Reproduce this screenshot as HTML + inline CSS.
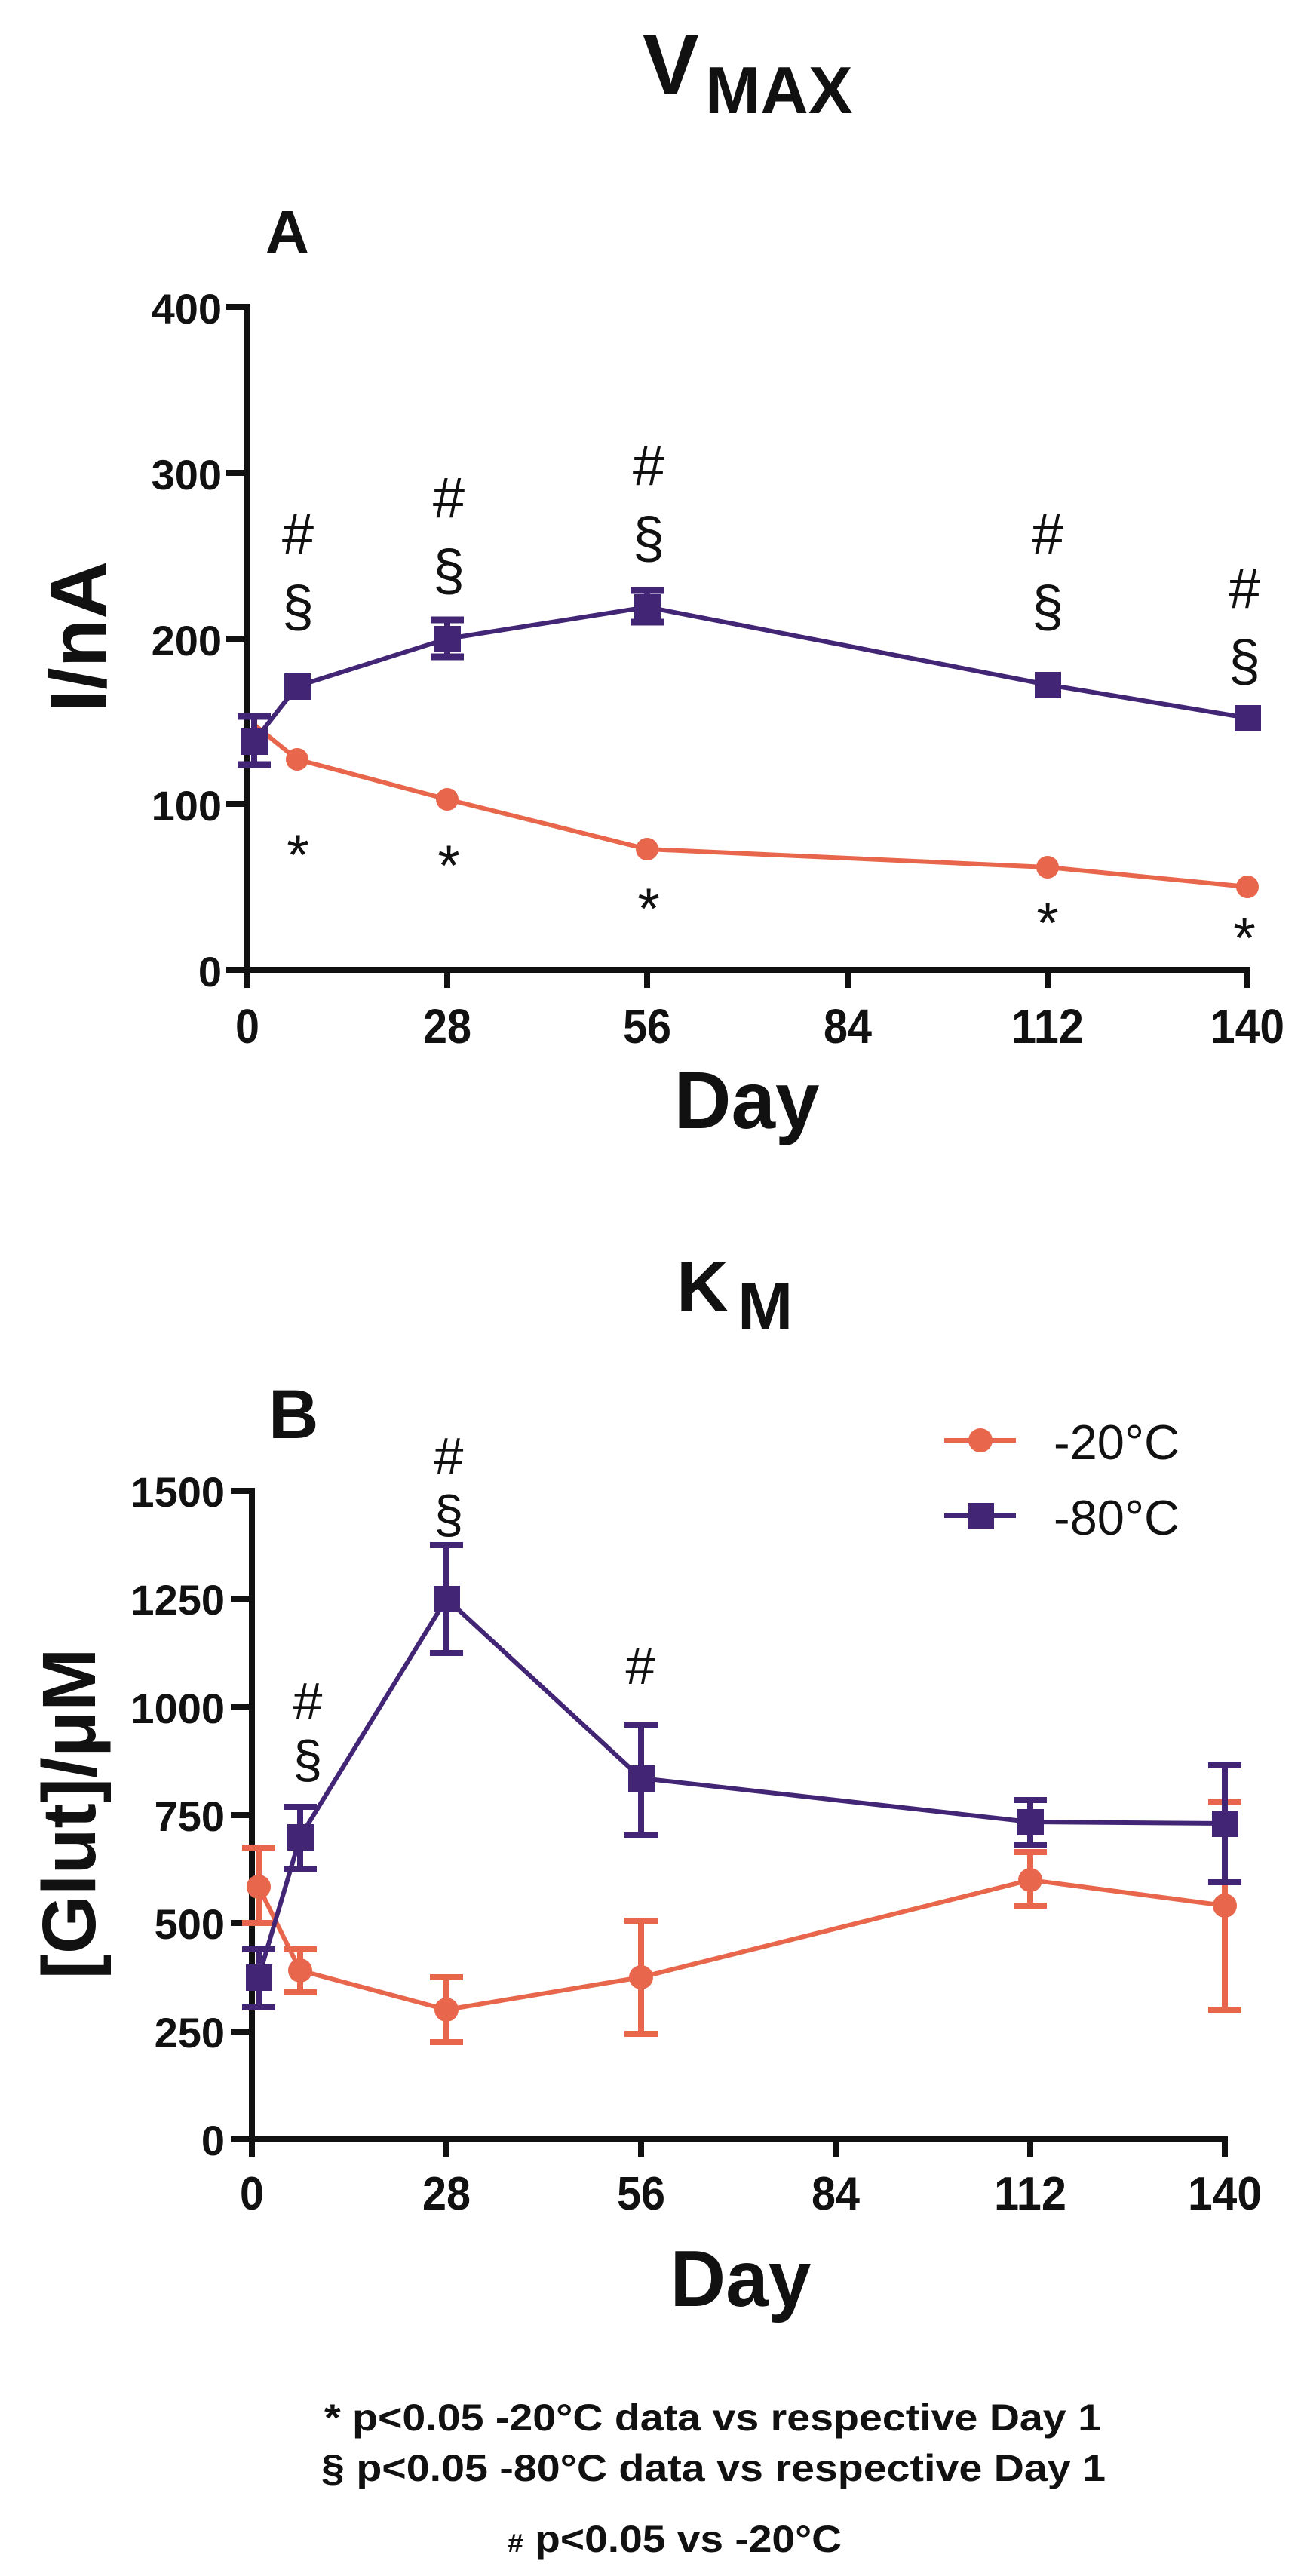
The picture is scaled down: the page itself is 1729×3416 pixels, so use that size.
<!DOCTYPE html>
<html><head><meta charset="utf-8"><style>
html,body{margin:0;padding:0;background:#fff;}
svg{display:block;}
text{font-family:"Liberation Sans",Arial,sans-serif;fill:#111;}
.b{font-weight:bold;}
</style></head><body>
<svg width="1729" height="3416" viewBox="0 0 1729 3416" xmlns="http://www.w3.org/2000/svg">
<rect width="1729" height="3416" fill="#fff"/>

<!-- ===== Chart A ===== -->
<text x="852" y="124" class="b" font-size="112">V</text>
<text x="935" y="150" class="b" font-size="88">MAX</text>
<text x="352" y="335" class="b" font-size="80">A</text>

<g stroke="#111" stroke-width="8" fill="none">
<line x1="328" y1="403" x2="328" y2="1300"/>
<line x1="324" y1="1286" x2="1658" y2="1286"/>
<line x1="300" y1="407" x2="328" y2="407"/>
<line x1="300" y1="627" x2="328" y2="627"/>
<line x1="300" y1="847" x2="328" y2="847"/>
<line x1="300" y1="1066" x2="328" y2="1066"/>
<line x1="300" y1="1286" x2="328" y2="1286"/>
<line x1="328" y1="1286" x2="328" y2="1310"/>
<line x1="593" y1="1286" x2="593" y2="1310"/>
<line x1="858" y1="1286" x2="858" y2="1310"/>
<line x1="1124" y1="1286" x2="1124" y2="1310"/>
<line x1="1389" y1="1286" x2="1389" y2="1310"/>
<line x1="1654" y1="1286" x2="1654" y2="1310"/>
</g>
<g class="b" font-size="56" text-anchor="end">
<text x="294" y="429" class="b">400</text>
<text x="294" y="649" class="b">300</text>
<text x="294" y="869" class="b">200</text>
<text x="294" y="1088" class="b">100</text>
<text x="294" y="1308" class="b">0</text>
</g>
<g font-size="64" text-anchor="middle">
<text x="328" y="1383" class="b" textLength="32" lengthAdjust="spacingAndGlyphs">0</text>
<text x="593" y="1383" class="b" textLength="64" lengthAdjust="spacingAndGlyphs">28</text>
<text x="858" y="1383" class="b" textLength="64" lengthAdjust="spacingAndGlyphs">56</text>
<text x="1124" y="1383" class="b" textLength="64" lengthAdjust="spacingAndGlyphs">84</text>
<text x="1389" y="1383" class="b" textLength="96" lengthAdjust="spacingAndGlyphs">112</text>
<text x="1654" y="1383" class="b" textLength="98" lengthAdjust="spacingAndGlyphs">140</text>
</g>
<text x="990" y="1496" class="b" font-size="108" text-anchor="middle" textLength="193" lengthAdjust="spacingAndGlyphs">Day</text>
<text transform="translate(140,844) rotate(-90)" class="b" font-size="106" text-anchor="middle">I/nA</text>

<!-- -20 A -->
<g stroke="#E8664C" stroke-width="6" fill="none">
<polyline points="337,961 394,1007 593,1060 858,1126 1389,1150 1654,1176"/>
<line x1="320" y1="951" x2="354" y2="951"/>
</g>
<g fill="#E8664C">
<circle cx="394" cy="1007" r="15"/><circle cx="593" cy="1060" r="15"/><circle cx="858" cy="1126" r="15"/><circle cx="1389" cy="1150" r="15"/><circle cx="1654" cy="1176" r="15"/>
</g>
<!-- -80 A -->
<g stroke="#422575" stroke-width="6" fill="none">
<polyline points="337,983 394,910 593,847 858,805 1389,908 1654,952"/>
<line x1="337" y1="950" x2="337" y2="1011" stroke-width="8"/>
<line x1="315" y1="950" x2="359" y2="950" stroke-width="9"/>
<line x1="315" y1="1014" x2="359" y2="1014" stroke-width="9"/>
<line x1="593" y1="822" x2="593" y2="871" stroke-width="8"/>
<line x1="571" y1="822" x2="615" y2="822" stroke-width="9"/>
<line x1="571" y1="871" x2="615" y2="871" stroke-width="9"/>
<line x1="858" y1="783" x2="858" y2="825" stroke-width="8"/>
<line x1="836" y1="783" x2="880" y2="783" stroke-width="9"/>
<line x1="836" y1="825" x2="880" y2="825" stroke-width="9"/>
</g>
<g fill="#422575">
<rect x="320" y="966" width="35" height="35"/><rect x="377" y="893" width="35" height="35"/><rect x="576" y="830" width="35" height="35"/><rect x="841" y="788" width="35" height="35"/><rect x="1372" y="891" width="35" height="35"/><rect x="1637" y="935" width="35" height="35"/>
</g>
<g font-size="76" text-anchor="middle">
<text x="395" y="734">#</text><text x="395" y="830">§</text><text x="395" y="1160">*</text>
<text x="595" y="686">#</text><text x="595" y="782">§</text><text x="595" y="1174">*</text>
<text x="860" y="643">#</text><text x="860" y="739">§</text><text x="860" y="1231">*</text>
<text x="1389" y="734">#</text><text x="1389" y="830">§</text><text x="1389" y="1250">*</text>
<text x="1650" y="806">#</text><text x="1650" y="902">§</text><text x="1650" y="1270">*</text>
</g>

<!-- ===== Chart B ===== -->
<text x="897" y="1739" class="b" font-size="96">K</text>
<text x="978" y="1762" class="b" font-size="88">M</text>
<text x="356" y="1907" class="b" font-size="92">B</text>

<g stroke="#111" stroke-width="8" fill="none">
<line x1="334" y1="1973" x2="334" y2="2850"/>
<line x1="330" y1="2837" x2="1628" y2="2837"/>
<line x1="306" y1="1977" x2="334" y2="1977"/>
<line x1="306" y1="2120" x2="334" y2="2120"/>
<line x1="306" y1="2264" x2="334" y2="2264"/>
<line x1="306" y1="2407" x2="334" y2="2407"/>
<line x1="306" y1="2550" x2="334" y2="2550"/>
<line x1="306" y1="2694" x2="334" y2="2694"/>
<line x1="306" y1="2837" x2="334" y2="2837"/>
<line x1="334" y1="2837" x2="334" y2="2860"/>
<line x1="592" y1="2837" x2="592" y2="2860"/>
<line x1="850" y1="2837" x2="850" y2="2860"/>
<line x1="1108" y1="2837" x2="1108" y2="2860"/>
<line x1="1366" y1="2837" x2="1366" y2="2860"/>
<line x1="1624" y1="2837" x2="1624" y2="2860"/>
</g>
<g font-size="56" text-anchor="end">
<text x="298" y="1998" class="b">1500</text>
<text x="298" y="2141" class="b">1250</text>
<text x="298" y="2285" class="b">1000</text>
<text x="298" y="2428" class="b">750</text>
<text x="298" y="2571" class="b">500</text>
<text x="298" y="2715" class="b">250</text>
<text x="298" y="2858" class="b">0</text>
</g>
<g font-size="62" text-anchor="middle">
<text x="334" y="2930" class="b" textLength="32" lengthAdjust="spacingAndGlyphs">0</text>
<text x="592" y="2930" class="b" textLength="64" lengthAdjust="spacingAndGlyphs">28</text>
<text x="850" y="2930" class="b" textLength="64" lengthAdjust="spacingAndGlyphs">56</text>
<text x="1108" y="2930" class="b" textLength="64" lengthAdjust="spacingAndGlyphs">84</text>
<text x="1366" y="2930" class="b" textLength="96" lengthAdjust="spacingAndGlyphs">112</text>
<text x="1624" y="2930" class="b" textLength="98" lengthAdjust="spacingAndGlyphs">140</text>
</g>
<text x="982" y="3058" class="b" font-size="106" text-anchor="middle" textLength="187" lengthAdjust="spacingAndGlyphs">Day</text>
<text transform="translate(126,2405) rotate(-90)" class="b" font-size="100" text-anchor="middle">[Glut]/μM</text>

<!-- legend -->
<line x1="1252" y1="1910" x2="1347" y2="1910" stroke="#E8664C" stroke-width="6"/>
<circle cx="1300" cy="1910" r="16" fill="#E8664C"/>
<line x1="1252" y1="2010" x2="1347" y2="2010" stroke="#422575" stroke-width="6"/>
<rect x="1283" y="1993" width="35" height="35" fill="#422575"/>
<text x="1397" y="1935" font-size="65">-20°C</text>
<text x="1397" y="2035" font-size="65">-80°C</text>

<!-- -20 B -->
<g stroke="#E8664C" stroke-width="6" fill="none">
<polyline points="343,2502 398,2613 592,2665 850,2622 1366,2493 1624,2527"/>
</g>
<g stroke="#E8664C" stroke-width="8" fill="none">
<path d="M343 2450V2550M321 2450H365M321 2550H365"/>
<path d="M398 2585V2642M376 2585H420M376 2642H420"/>
<path d="M592 2622V2708M570 2622H614M570 2708H614"/>
<path d="M850 2547V2697M828 2547H872M828 2697H872"/>
<path d="M1366 2456V2527M1344 2456H1388M1344 2527H1388"/>
<path d="M1624 2390V2665M1602 2390H1646M1602 2665H1646"/>
</g>
<g fill="#E8664C">
<circle cx="343" cy="2502" r="16"/><circle cx="398" cy="2613" r="16"/><circle cx="592" cy="2665" r="16"/><circle cx="850" cy="2622" r="16"/><circle cx="1366" cy="2493" r="16"/><circle cx="1624" cy="2527" r="16"/>
</g>
<!-- -80 B -->
<g stroke="#422575" stroke-width="6" fill="none">
<polyline points="343,2622 398,2436 592,2120 850,2358 1366,2416 1624,2418"/>
</g>
<g stroke="#422575" stroke-width="8" fill="none">
<path d="M343 2585V2662M321 2585H365M321 2662H365"/>
<path d="M398 2396V2479M376 2396H420M376 2479H420"/>
<path d="M592 2049V2192M570 2049H614M570 2192H614"/>
<path d="M850 2287V2433M828 2287H872M828 2433H872"/>
<path d="M1366 2387V2447M1344 2387H1388M1344 2447H1388"/>
<path d="M1624 2341V2496M1602 2341H1646M1602 2496H1646"/>
</g>
<g fill="#422575">
<rect x="326" y="2605" width="35" height="35"/><rect x="381" y="2419" width="35" height="35"/><rect x="575" y="2103" width="35" height="35"/><rect x="833" y="2341" width="35" height="35"/><rect x="1349" y="2399" width="35" height="35"/><rect x="1607" y="2401" width="35" height="35"/>
</g>
<g font-size="70" text-anchor="middle">
<text x="408" y="2280">#</text><text x="408" y="2357">§</text>
<text x="595" y="1955">#</text><text x="595" y="2032">§</text>
<text x="849" y="2233">#</text>
</g>

<!-- footnotes -->
<g font-size="50" class="b">
<text x="430" y="3223" class="b" textLength="1030" lengthAdjust="spacingAndGlyphs">* p&lt;0.05 -20°C data vs respective Day 1</text>
<text x="426" y="3290" class="b" textLength="1040" lengthAdjust="spacingAndGlyphs">§ p&lt;0.05 -80°C data vs respective Day 1</text>
<text x="673" y="3384" class="b" textLength="443" lengthAdjust="spacingAndGlyphs"><tspan font-size="34">#</tspan> p&lt;0.05 vs -20°C</text>
</g>
</svg>
</body></html>
